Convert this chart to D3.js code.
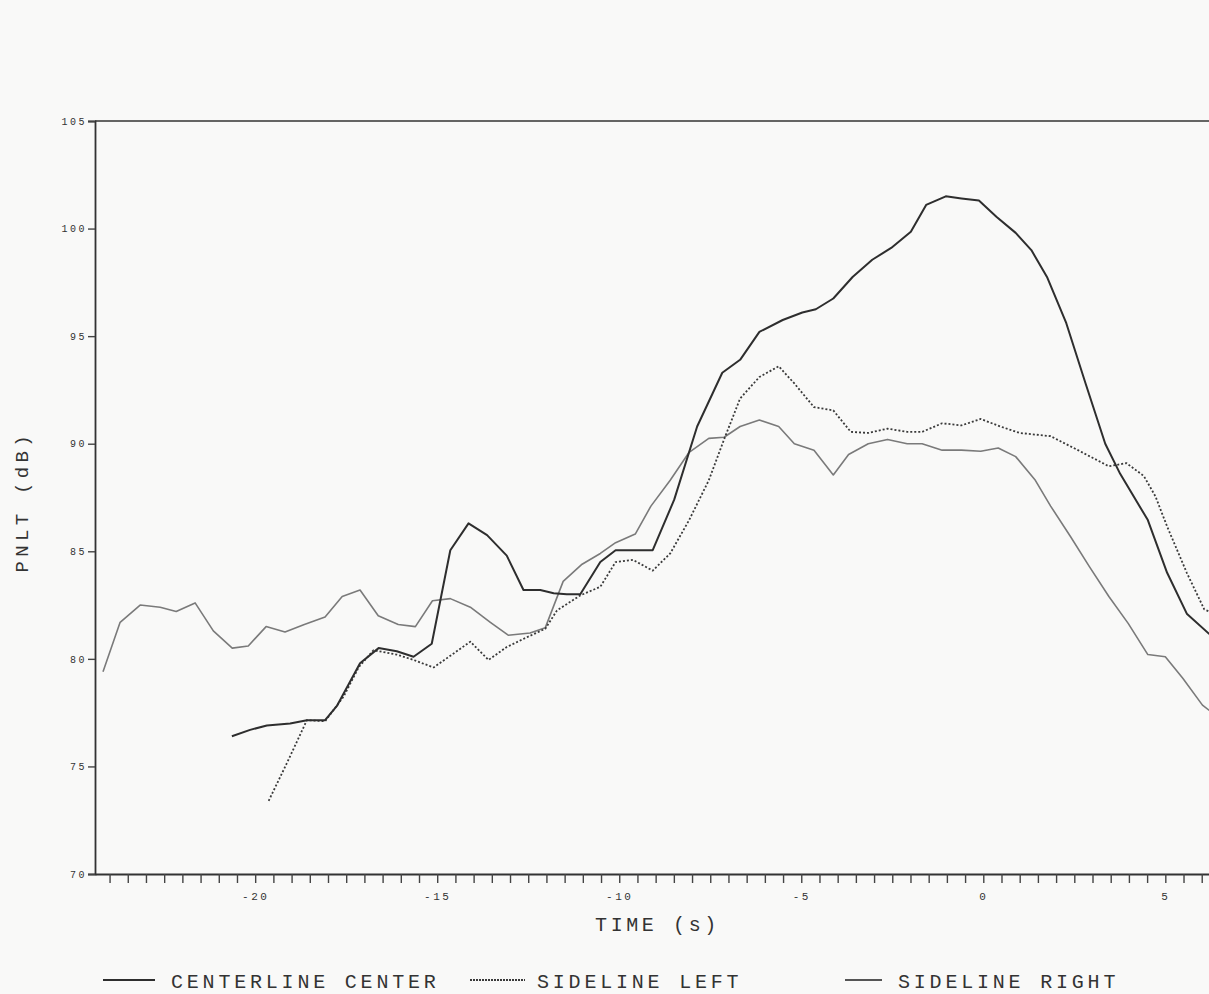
<!DOCTYPE html>
<html>
<head>
<meta charset="utf-8">
<script src="https://cdn.jsdelivr.net/npm/d3@7"></script>
<style>
  body { margin: 0; background: #f9f9f8; }
  svg { display: block; }
  text { font-family: "Liberation Mono", "DejaVu Sans Mono", monospace; fill: #333; }
</style>
</head>
<body>
<div id="chart"></div>
<script>
// time (s) and PNLT (dB)
var centerTime = [-20.64, -20.14, -19.68, -19.04, -18.58, -18.08, -17.76, -17.12, -16.61, -16.11, -15.65, -15.15,
  -14.64, -14.14, -13.63, -13.09, -12.63, -12.17, -11.80, -11.44, -11.07, -10.52, -10.10, -9.08, -8.49, -7.86,
  -7.17, -6.68, -6.15, -5.51, -4.97, -4.60, -4.12, -3.59, -3.05, -2.53, -1.99, -1.57, -1.03, -0.60, -0.12,
  0.36, 0.89, 1.32, 1.75, 2.28, 2.81, 3.35, 3.76, 4.52, 5.05, 5.59, 6.21];
var centerPnlt = [76.4, 76.7, 76.9, 77.0, 77.15, 77.15, 77.8, 79.8, 80.5, 80.35, 80.1, 80.7,
  85.05, 86.3, 85.75, 84.8, 83.2, 83.2, 83.05, 83.0, 83.0, 84.5, 85.05, 85.05, 87.4, 90.8,
  93.3, 93.9, 95.2, 95.75, 96.1, 96.25, 96.75, 97.75, 98.55, 99.1, 99.85, 101.1, 101.5, 101.4, 101.3,
  100.55, 99.8, 99.0, 97.75, 95.6, 92.8, 90.0, 88.6, 86.45, 84.0, 82.1, 81.15];

var leftTime = [-19.63, -19.13, -18.58, -18.08, -17.57, -17.16, -16.75, -16.11, -15.65, -15.10, -14.55, -14.09,
  -13.59, -13.09, -12.54, -12.03, -11.71, -11.07, -10.52, -10.10, -9.62, -9.08, -8.60, -8.08, -7.54, -7.12,
  -6.68, -6.15, -5.62, -5.19, -4.65, -4.12, -3.64, -3.16, -2.63, -2.09, -1.68, -1.13, -0.60, -0.07, 0.47,
  1.00, 1.85, 2.60, 3.45, 3.93, 4.41, 4.73, 5.05, 5.59, 6.07, 6.21];
var leftPnlt = [73.4, 75.15, 77.15, 77.1, 78.25, 79.6, 80.4, 80.2, 79.95, 79.6, 80.25, 80.8,
  79.95, 80.55, 81.0, 81.4, 82.25, 82.95, 83.35, 84.5, 84.6, 84.1, 84.9, 86.45, 88.3, 90.2,
  92.1, 93.1, 93.6, 92.8, 91.7, 91.55, 90.55, 90.5, 90.7, 90.55, 90.55, 90.95, 90.85, 91.15, 90.8,
  90.5, 90.35, 89.7, 88.95, 89.1, 88.5, 87.55, 86.15, 84.0, 82.3, 82.2];

var rightTime = [-24.18, -23.71, -23.16, -22.61, -22.17, -21.65, -21.15, -20.63, -20.19, -19.70, -19.18, -18.65,
  -18.08, -17.61, -17.12, -16.62, -16.07, -15.60, -15.13, -14.64, -14.09, -13.54, -13.05, -12.45, -12.03,
  -11.54, -11.02, -10.52, -10.10, -9.56, -9.13, -8.60, -8.08, -7.54, -7.12, -6.68, -6.15, -5.62, -5.19,
  -4.65, -4.12, -3.70, -3.16, -2.63, -2.09, -1.68, -1.13, -0.60, -0.07, 0.41, 0.89, 1.43, 1.85, 2.39,
  2.91, 3.45, 3.98, 4.52, 5.00, 5.48, 6.02, 6.21];
var rightPnlt = [79.4, 81.7, 82.5, 82.4, 82.2, 82.6, 81.3, 80.5, 80.6, 81.5, 81.25, 81.6,
  81.95, 82.9, 83.2, 82.0, 81.6, 81.5, 82.7, 82.8, 82.4, 81.7, 81.1, 81.2, 81.45,
  83.6, 84.4, 84.9, 85.4, 85.8, 87.1, 88.3, 89.6, 90.25, 90.3, 90.8, 91.1, 90.8, 90.0,
  89.7, 88.55, 89.5, 90.0, 90.2, 90.0, 90.0, 89.7, 89.7, 89.65, 89.8, 89.4, 88.3, 87.1, 85.7,
  84.3, 82.9, 81.65, 80.2, 80.1, 79.1, 77.85, 77.6];

var yTicks = [70, 75, 80, 85, 90, 95, 100, 105];
var xLabels = [-20, -15, -10, -5, 0, 5];
var legendNames = ["CENTERLINE CENTER", "SIDELINE LEFT", "SIDELINE RIGHT"];

var margin = { top: 121, right: 0, bottom: 120, left: 95 },
    width = 1209 - margin.left - margin.right,
    height = 994 - margin.top - margin.bottom;

var svg = d3.select("#chart")
  .append("svg")
    .attr("width", 1209)
    .attr("height", 994)
  .append("g")
    .attr("transform", "translate(" + margin.left + "," + margin.top + ")");

var x = d3.scaleLinear().domain([-24.4, 6.2]).range([0, width]);
var y = d3.scaleLinear().domain([70, 105]).range([height, 0]);

// frame
svg.append("line")
  .attr("x1", 0).attr("x2", width).attr("y1", 0).attr("y2", 0)
  .attr("stroke", "#333").attr("stroke-width", 1.6);

// Y axis
var yAxis = svg.append("g")
  .call(d3.axisLeft(y).tickValues(yTicks).tickSize(7).tickPadding(1));
yAxis.select(".domain").attr("stroke", "#333").attr("stroke-width", 1.8);
yAxis.selectAll(".tick line").attr("stroke", "#444").attr("stroke-width", 1.4);
yAxis.selectAll("text").style("font-size", "10px").style("letter-spacing", "2.5px").attr("fill", "#444");

// X axis: minor ticks every 0.5 s, labels every 5 s
var minor = d3.range(-24, 6.01, 0.5);
var xAxis = svg.append("g")
  .attr("transform", "translate(0," + height + ")")
  .call(d3.axisBottom(x).tickValues(minor).tickSize(9).tickSizeOuter(0)
    .tickFormat(function(d) { return xLabels.indexOf(d) >= 0 ? d : ""; }));
xAxis.select(".domain").attr("stroke", "#333").attr("stroke-width", 1.8);
xAxis.selectAll(".tick line").attr("stroke", "#444").attr("stroke-width", 1.4);
xAxis.selectAll("text").style("font-size", "11px").style("letter-spacing", "2.5px")
  .attr("fill", "#444").attr("dy", "1.3em");

// axis titles
svg.append("text")
  .attr("x", x(-8.95)).attr("y", height + 57)
  .attr("text-anchor", "middle")
  .style("font-size", "20px").style("letter-spacing", "3.6px")
  .text("TIME (s)");

svg.append("text")
  .attr("transform", "translate(-67," + y(87.3) + ")rotate(-90)")
  .attr("text-anchor", "middle")
  .style("font-size", "19px").style("letter-spacing", "4.3px")
  .text("PNLT (dB)");

// lines
var line = d3.line()
  .x(function(d) { return x(d[0]); })
  .y(function(d) { return y(d[1]); });

var series = [
  { t: rightTime, v: rightPnlt, color: "#7a7a7a", w: 1.6, dash: null },
  { t: leftTime, v: leftPnlt, color: "#3a3a3a", w: 1.8, dash: "2,2" },
  { t: centerTime, v: centerPnlt, color: "#2e2e2e", w: 2, dash: null }
];

svg.append("defs").append("clipPath").attr("id", "clip")
  .append("rect").attr("width", width).attr("height", height);

series.forEach(function(s) {
  svg.append("path")
    .datum(d3.zip(s.t, s.v))
    .attr("clip-path", "url(#clip)")
    .attr("fill", "none")
    .attr("stroke", s.color)
    .attr("stroke-width", s.w)
    .attr("stroke-dasharray", s.dash)
    .attr("stroke-linejoin", "round")
    .attr("d", line);
});

// legend
var legend = [
  { x1: 103, x2: 155, tx: 171, color: "#2e2e2e", w: 2, dash: null },
  { x1: 470, x2: 525, tx: 537, color: "#3a3a3a", w: 1.8, dash: "2,1" },
  { x1: 845, x2: 882, tx: 898, color: "#555", w: 1.8, dash: null }
];
var lg = d3.select("svg").append("g");
legend.forEach(function(l, i) {
  lg.append("line")
    .attr("x1", l.x1).attr("x2", l.x2).attr("y1", 980).attr("y2", 980)
    .attr("stroke", l.color).attr("stroke-width", l.w)
    .attr("stroke-dasharray", l.dash);
  lg.append("text")
    .attr("x", l.tx).attr("y", 988)
    .style("font-size", "20px").style("letter-spacing", "3.8px")
    .text(legendNames[i]);
});
</script>
</body>
</html>
